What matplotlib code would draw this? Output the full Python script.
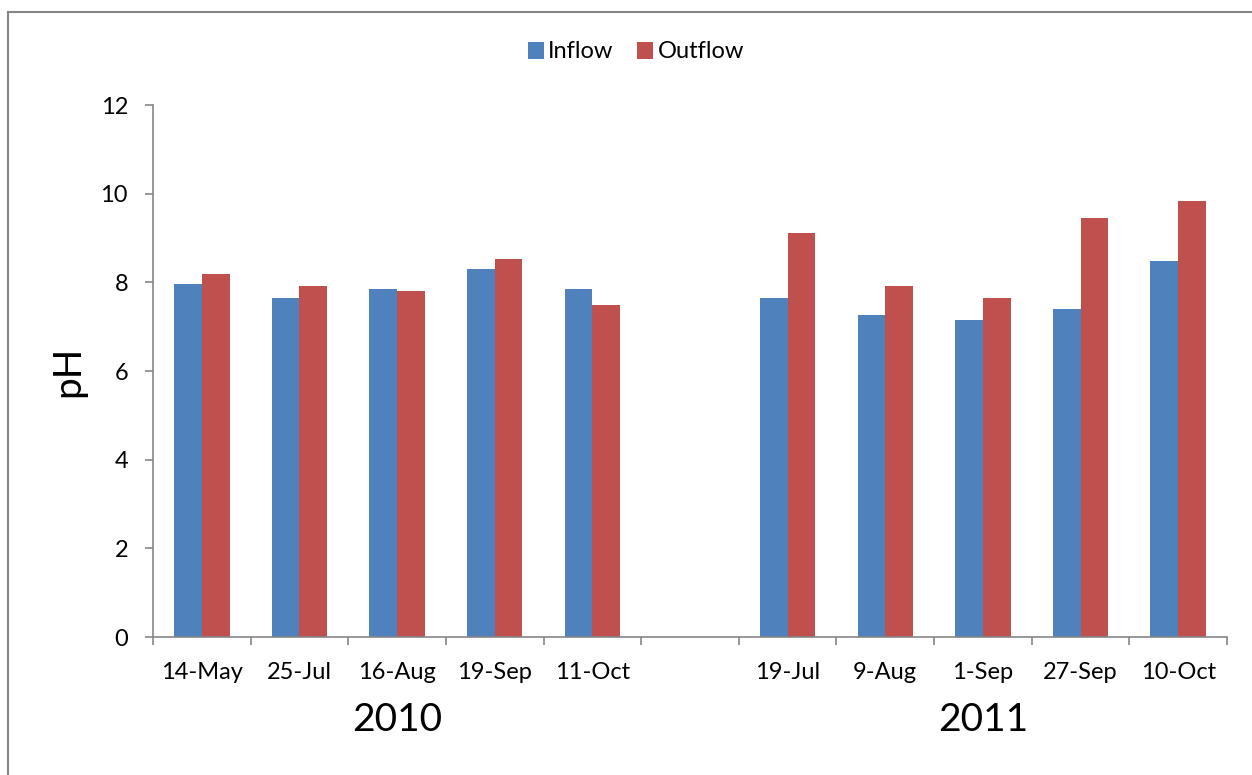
import numpy as np
import matplotlib
matplotlib.use('Agg')
import matplotlib.pyplot as plt
from matplotlib.lines import Line2D
from matplotlib.transforms import blended_transform_factory

plt.rcParams['font.family'] = ['Lato', 'DejaVu Sans']

# Sampling dates, grouped by year (an empty slot separates the two years)
datas_2010 = ['14-May', '25-Jul', '16-Aug', '19-Sep', '11-Oct']
datas_2011 = ['19-Jul', '9-Aug', '1-Sep', '27-Sep', '10-Oct']
anos = ['2010', '2011']

# pH measured at the inlet and outlet
inflow_2010 = [7.96, 7.65, 7.85, 8.30, 7.85]
outflow_2010 = [8.18, 7.92, 7.80, 8.53, 7.49]
inflow_2011 = [7.65, 7.26, 7.15, 7.40, 8.47]
outflow_2011 = [9.11, 7.91, 7.65, 9.44, 9.83]

cor_in = '#4F81BD'
cor_out = '#C0504D'
cinza = '#868686'

# Category slots: 0-4 for 2010, 5 empty, 6-10 for 2011
rotulos = datas_2010 + [''] + datas_2011
pos = np.arange(len(rotulos))
pos_2010 = pos[:5]
pos_2011 = pos[6:]
largura = 0.284

W, H = 1252, 775
fig = plt.figure(figsize=(W / 100, H / 100), dpi=100)
ax = fig.add_axes([153 / W, 1 - 637 / H, (1227 - 153) / W, (637 - 105) / H])

ax.bar(pos_2010 - largura / 2, inflow_2010, largura, color=cor_in, label='Inflow')
ax.bar(pos_2010 + largura / 2, outflow_2010, largura, color=cor_out, label='Outflow')
ax.bar(pos_2011 - largura / 2, inflow_2011, largura, color=cor_in)
ax.bar(pos_2011 + largura / 2, outflow_2011, largura, color=cor_out)

ax.set_xlim(-0.5, len(rotulos) - 0.5)
ax.set_ylim(0, 12)
ax.set_yticks(np.arange(0, 13, 2))

# labels at slot centres, tick marks at slot boundaries
ax.set_xticks(pos)
ax.set_xticklabels(rotulos)
ax.set_xticks(np.arange(-0.5, len(rotulos), 1.0), minor=True)
ax.tick_params(axis='x', which='major', length=0, pad=18, labelsize=17)
ax.tick_params(axis='x', which='minor', length=6, width=1.2, color=cinza, direction='out')
ax.tick_params(axis='y', length=6, width=1.2, color=cinza, direction='out', pad=12, labelsize=17)

for lado in ['top', 'right']:
    ax.spines[lado].set_visible(False)
for lado in ['left', 'bottom']:
    ax.spines[lado].set_color(cinza)
    ax.spines[lado].set_linewidth(1.2)

ax.set_ylabel('pH', fontsize=28, labelpad=10)

# year labels under each group
trans = blended_transform_factory(ax.transData, fig.transFigure)
ax.text(np.mean(pos_2010), 1 - 720 / H, anos[0], transform=trans,
        ha='center', va='center', fontsize=28)
ax.text(np.mean(pos_2011), 1 - 720 / H, anos[1], transform=trans,
        ha='center', va='center', fontsize=28)

fig.legend(loc='center', bbox_to_anchor=(636 / W, 1 - 52 / H), ncol=2,
           frameon=False, fontsize=17, handlelength=0.65, handleheight=0.75,
           handletextpad=0.2, columnspacing=1.0)

# chart area border (left and top edges fall inside the image)
fig.add_artist(Line2D([8 / W, 8 / W], [0, 1 - 12 / H], transform=fig.transFigure,
                      color=cinza, linewidth=1.5))
fig.add_artist(Line2D([8 / W, 1], [1 - 12 / H, 1 - 12 / H], transform=fig.transFigure,
                      color=cinza, linewidth=1.5))

fig.savefig('out.png', dpi=100)
